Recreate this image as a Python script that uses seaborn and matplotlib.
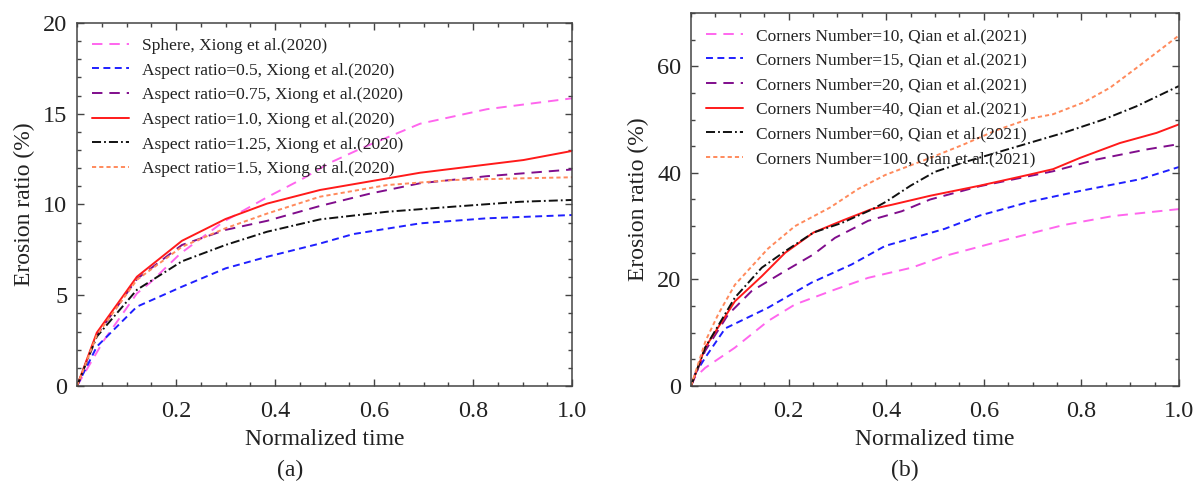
import numpy as np
import pandas as pd
import matplotlib
matplotlib.use("Agg")
import matplotlib.pyplot as plt
from matplotlib.ticker import MultipleLocator, FixedLocator
import seaborn as sns

# ---------------- data: panel (a) ----------------
sphere_x = [0, 0.054, 0.121, 0.148, 0.209, 0.296, 0.384, 0.458, 0.511, 0.579, 0.693, 0.828, 1.0]
sphere_y = [0, 2.5, 5.1, 5.7, 7.3, 9.05, 10.4, 11.45, 12.3, 13.15, 14.45, 15.25, 15.85]

ar05_x = [0, 0.04, 0.121, 0.212, 0.30, 0.384, 0.491, 0.558, 0.693, 0.828, 1.0]
ar05_y = [0, 2.17, 4.37, 5.47, 6.48, 7.12, 7.85, 8.37, 8.96, 9.24, 9.42]

ar075_x = [0, 0.04, 0.121, 0.212, 0.30, 0.384, 0.491, 0.592, 0.693, 0.828, 1.0]
ar075_y = [0, 2.8, 5.9, 7.77, 8.6, 9.1, 9.92, 10.6, 11.17, 11.56, 11.93]

ar10_x = [0, 0.04, 0.121, 0.212, 0.30, 0.384, 0.491, 0.693, 0.902, 1.0]
ar10_y = [0, 2.94, 6.02, 8.0, 9.2, 10.05, 10.8, 11.75, 12.45, 12.95]

ar125_x = [0, 0.04, 0.121, 0.212, 0.30, 0.384, 0.491, 0.626, 0.76, 0.895, 1.0]
ar125_y = [0, 2.72, 5.3, 6.87, 7.77, 8.5, 9.18, 9.6, 9.88, 10.15, 10.25]

ar15_x = [0, 0.04, 0.121, 0.212, 0.30, 0.384, 0.491, 0.626, 0.76, 0.895, 1.0]
ar15_y = [0, 2.8, 5.85, 7.67, 8.69, 9.5, 10.43, 11.07, 11.35, 11.44, 11.5]

labels_a = [
    "Sphere, Xiong et al.(2020)",
    "Aspect ratio=0.5, Xiong et al.(2020)",
    "Aspect ratio=0.75, Xiong et al.(2020)",
    "Aspect ratio=1.0, Xiong et al.(2020)",
    "Aspect ratio=1.25, Xiong et al.(2020)",
    "Aspect ratio=1.5, Xiong et al.(2020)",
]

# ---------------- data: panel (b) ----------------
cn10_x = [0, 0.008, 0.029, 0.09, 0.158, 0.213, 0.295, 0.363, 0.452, 0.52, 0.626, 0.763, 0.865, 1.0]
cn10_y = [0, 1.6, 3.4, 7.2, 12.2, 15.3, 18.1, 20.3, 22.2, 24.4, 27.0, 30.2, 31.9, 33.2]

cn15_x = [0, 0.008, 0.029, 0.07, 0.158, 0.247, 0.329, 0.398, 0.456, 0.52, 0.592, 0.695, 0.797, 0.92, 1.0]
cn15_y = [0, 2.2, 5.3, 10.8, 14.7, 19.4, 22.8, 26.3, 27.8, 29.5, 32.0, 34.6, 36.6, 38.8, 41.1]

cn20_x = [0, 0.029, 0.076, 0.124, 0.193, 0.251, 0.295, 0.363, 0.432, 0.49, 0.592, 0.742, 0.831, 0.934, 1.0]
cn20_y = [0, 6.6, 13.4, 17.8, 21.6, 24.7, 27.8, 31.0, 32.8, 35.0, 37.5, 40.3, 42.5, 44.4, 45.4]

cn40_x = [0, 0.029, 0.09, 0.145, 0.193, 0.251, 0.309, 0.37, 0.411, 0.49, 0.592, 0.695, 0.742, 0.797, 0.879, 0.954, 1.0]
cn40_y = [0, 7.2, 15.9, 20.6, 25.0, 28.8, 31.0, 33.2, 34.0, 35.7, 37.6, 39.7, 40.7, 42.8, 45.6, 47.5, 49.1]

cn60_x = [0, 0.029, 0.09, 0.145, 0.193, 0.251, 0.309, 0.37, 0.40, 0.45, 0.50, 0.56, 0.63, 0.70, 0.763, 0.845, 0.913, 1.0]
cn60_y = [0, 7.2, 16.6, 22.2, 25.3, 28.8, 30.6, 33.1, 34.6, 37.6, 40.2, 42.0, 43.9, 45.8, 47.5, 50.0, 52.5, 56.3]

cn100_x = [0, 0.03, 0.056, 0.09, 0.158, 0.213, 0.285, 0.343, 0.398, 0.49, 0.558, 0.626, 0.695, 0.742, 0.804, 0.859, 0.913, 1.0]
cn100_y = [0, 8.5, 13.5, 19.0, 25.8, 30.0, 33.5, 37.0, 39.6, 42.8, 45.3, 48.0, 50.2, 51.0, 53.2, 56.0, 59.7, 65.8]

labels_b = [
    "Corners Number=10, Qian et al.(2021)",
    "Corners Number=15, Qian et al.(2021)",
    "Corners Number=20, Qian et al.(2021)",
    "Corners Number=40, Qian et al.(2021)",
    "Corners Number=60, Qian et al.(2021)",
    "Corners Number=100, Qian et al.(2021)",
]

xticks = [0.2, 0.4, 0.6, 0.8, 1.0]
xtick_labels = ["0.2", "0.4", "0.6", "0.8", "1.0"]
yticks_a = [0, 5, 10, 15, 20]
yticks_b = [0, 20, 40, 60]

# ---------------- styles ----------------
colors = ["#FF66EE", "#1F1FFF", "#800D8C", "#FF1A1A", "#111111", "#FF8A5C"]
styles = [
    (0, (7.5, 5.0)),
    (0, (5.0, 3.2)),
    (0, (7.5, 5.0)),
    "-",
    (0, (6.5, 2.2, 1.3, 2.2)),
    (0, (3.0, 2.2)),
]

sns.set_theme(style="ticks")
plt.rcParams["font.family"] = ["Liberation Serif", "DejaVu Serif"]
plt.rcParams["lines.scale_dashes"] = False
TXT = "#222222"
plt.rcParams["text.color"] = TXT
plt.rcParams["axes.labelcolor"] = TXT
plt.rcParams["xtick.color"] = "#444444"
plt.rcParams["ytick.color"] = "#444444"
plt.rcParams["xtick.labelcolor"] = TXT
plt.rcParams["ytick.labelcolor"] = TXT

fig = plt.figure(figsize=(11.97, 4.9), dpi=100)
ax1 = fig.add_axes([77 / 1197, 1 - 386 / 490, 495 / 1197, 363 / 490])
ax2 = fig.add_axes([691 / 1197, 1 - 386 / 490, 488 / 1197, 373 / 490])

series_a = [(sphere_x, sphere_y), (ar05_x, ar05_y), (ar075_x, ar075_y),
            (ar10_x, ar10_y), (ar125_x, ar125_y), (ar15_x, ar15_y)]
series_b = [(cn10_x, cn10_y), (cn15_x, cn15_y), (cn20_x, cn20_y),
            (cn40_x, cn40_y), (cn60_x, cn60_y), (cn100_x, cn100_y)]

for ax, series, labels in [(ax1, series_a, labels_a), (ax2, series_b, labels_b)]:
    for (xs, ys), lab, c, ls in zip(series, labels, colors, styles):
        df = pd.DataFrame({"t": xs, "e": ys})
        sns.lineplot(data=df, x="t", y="e", ax=ax, color=c, linestyle=ls,
                     linewidth=1.4, label=lab, sort=False, estimator=None)

def style_axes(ax, yticks, ymax, yminor):
    ax.set_xlim(0, 1.0)
    ax.set_ylim(0, ymax)
    ax.xaxis.set_major_locator(FixedLocator(xticks))
    ax.set_xticklabels(xtick_labels)
    ax.xaxis.set_minor_locator(MultipleLocator(0.05))
    ax.yaxis.set_major_locator(FixedLocator(yticks))
    ax.yaxis.set_minor_locator(MultipleLocator(yminor))
    ax.tick_params(which="both", direction="in", top=True, right=True,
                   labelsize=17.5, width=1.0)
    ax.tick_params(axis="x", which="major", length=5, pad=11)
    ax.tick_params(axis="y", which="major", length=5, pad=7)
    ax.tick_params(which="minor", length=3)
    for s in ax.spines.values():
        s.set_color("#444444")
        s.set_linewidth(1.1)
    ax.set_xlabel("Normalized time", fontsize=17, labelpad=5)
    ax.set_ylabel("Erosion ratio (%)", fontsize=17, labelpad=6)
    leg = ax.legend(loc="upper left", bbox_to_anchor=(0.0, 1.0), frameon=False,
                    fontsize=12.5, handlelength=2.15, handletextpad=0.75,
                    labelspacing=0.49, borderaxespad=0.45)
    for t in leg.get_texts():
        t.set_color(TXT)

style_axes(ax1, yticks_a, 20, 1)
style_axes(ax2, yticks_b, 70, 5)

fig.text(290 / 1197, 1 - 470 / 490, "(a)", ha="center", va="center", fontsize=17)
fig.text(905 / 1197, 1 - 470 / 490, "(b)", ha="center", va="center", fontsize=17)

fig.savefig("out.png", dpi=100, facecolor="white")
